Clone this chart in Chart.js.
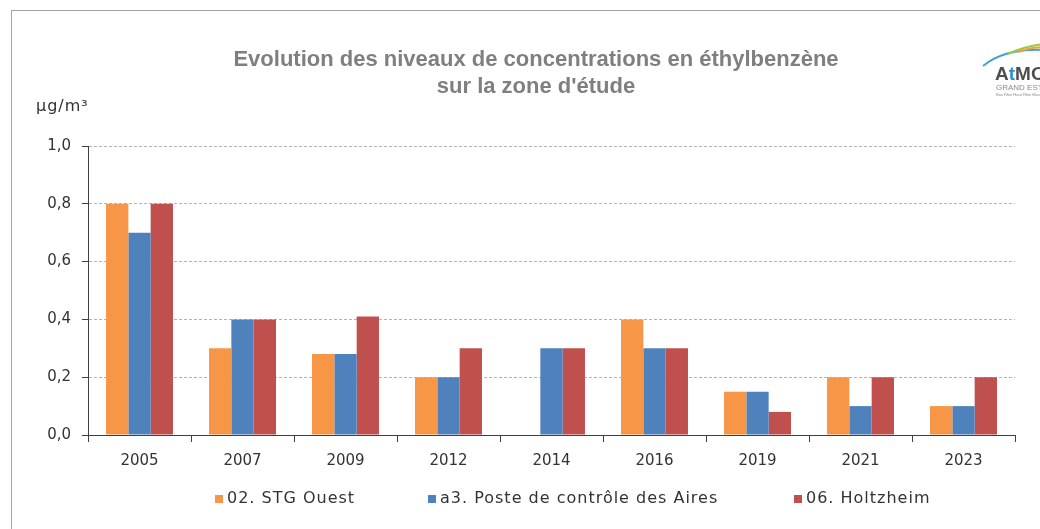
<!DOCTYPE html>
<html lang="fr">
<head>
<meta charset="UTF-8">
<title>Evolution des niveaux de concentrations en éthylbenzène</title>
<script src="https://cdn.jsdelivr.net/npm/chart.js"></script>
<style>
  html, body { margin: 0; padding: 0; background: #fff; }
  #wrap { width: 1040px; height: 529px; position: relative; }
</style>
</head>
<body>
<div id="wrap"><canvas id="chart"></canvas></div>
<script>
// data
const years = ['2005', '2007', '2009', '2012', '2014', '2016', '2019', '2021', '2023'];
const stgOuest = [0.8, 0.3, 0.28, 0.2, null, 0.4, 0.15, 0.2, 0.1];
const posteAires = [0.7, 0.4, 0.28, 0.2, 0.3, 0.3, 0.15, 0.1, 0.1];
const holtzheim = [0.8, 0.4, 0.41, 0.3, 0.3, 0.3, 0.08, 0.2, 0.2];
const seriesNames = ['02. STG Ouest', 'a3. Poste de contrôle des Aires', '06. Holtzheim'];
const seriesColors = ['#F79646', '#4F81BD', '#C0504D'];
const yTicks = [0, 0.2, 0.4, 0.6, 0.8, 1.0];

const titleLines = ['Evolution des niveaux de concentrations en éthylbenzène', 'sur la zone d\'étude'];
const unitLabel = 'µg/m³';

const tickFont = { family: 'DejaVu Sans', size: 15 };
const axisColor = '#404040';

// frame, title, unit, logo and the Excel-style legend
const decorations = {
    id: 'decorations',
    beforeDraw(chart) {
        const ctx = chart.ctx;
        ctx.save();
        ctx.fillStyle = '#fff';
        ctx.fillRect(0, 0, chart.width, chart.height);
        ctx.strokeStyle = '#a6a6a6';
        ctx.lineWidth = 1;
        ctx.strokeRect(11.5, 10.5, 1200, 700);
        ctx.restore();
    },
    afterDraw(chart) {
        const ctx = chart.ctx;
        ctx.save();

        // title
        ctx.fillStyle = '#7f7f7f';
        ctx.font = 'bold 22px "Liberation Sans"';
        ctx.textAlign = 'center';
        ctx.textBaseline = 'middle';
        titleLines.forEach((t, i) => ctx.fillText(t, 536, 60 + i * 27));

        // unit
        ctx.fillStyle = '#333';
        ctx.font = '16px "DejaVu Sans"';
        ctx.textAlign = 'left';
        ctx.letterSpacing = '1px';
        ctx.fillText(unitLabel, 36, 107);

        // legend
        const legendX = [215, 428, 794];
        ctx.font = '16px "DejaVu Sans"';
        seriesNames.forEach((name, i) => {
            ctx.fillStyle = seriesColors[i];
            ctx.fillRect(legendX[i], 495, 8, 8);
            ctx.fillStyle = '#333';
            ctx.fillText(name, legendX[i] + 12, 499);
        });
        ctx.letterSpacing = '0px';

        // logo (cut by the right edge as in the original)
        ctx.lineWidth = 2;
        ctx.strokeStyle = '#3aa0dc';
        ctx.beginPath();
        ctx.moveTo(983, 66);
        ctx.quadraticCurveTo(1005, 48, 1045, 50);
        ctx.stroke();
        ctx.strokeStyle = '#9ccc3c';
        ctx.beginPath();
        ctx.moveTo(1008, 54);
        ctx.quadraticCurveTo(1025, 46, 1045, 44);
        ctx.stroke();
        ctx.strokeStyle = '#f3a13a';
        ctx.beginPath();
        ctx.moveTo(1018, 52);
        ctx.quadraticCurveTo(1030, 47, 1045, 47);
        ctx.stroke();
        ctx.font = 'bold 19px "Liberation Sans"';
        ctx.textBaseline = 'alphabetic';
        ctx.fillStyle = '#4d4d4d';
        ctx.fillText('A', 995, 80);
        let x = 995 + ctx.measureText('A').width;
        ctx.fillStyle = '#2b8fd0';
        ctx.fillText('t', x, 80);
        x += ctx.measureText('t').width;
        ctx.fillStyle = '#4d4d4d';
        ctx.fillText('MO', x, 80);
        ctx.font = '8px "Liberation Sans"';
        ctx.fillStyle = '#8a8a8a';
        ctx.fillText('GRAND EST', 996, 90);
        ctx.font = '4px "Liberation Sans"';
        ctx.fillText('Bas Rhin Haut Rhin Moselle', 996, 96);
        ctx.restore();
    }
};

new Chart(document.getElementById('chart'), {
    type: 'bar',
    data: {
        labels: years,
        datasets: [stgOuest, posteAires, holtzheim].map((vals, i) => ({
            label: seriesNames[i],
            data: vals,
            backgroundColor: seriesColors[i],
            borderWidth: 0,
            categoryPercentage: 0.65,
            barPercentage: 1.0
        }))
    },
    options: {
        responsive: true,
        maintainAspectRatio: false,
        animation: false,
        layout: { padding: { top: 146, right: 25, bottom: 0, left: 0 } },
        plugins: {
            legend: { display: false },
            title: { display: false },
            tooltip: { enabled: false }
        },
        scales: {
            x: {
                offset: true,
                grid: {
                    offset: true,
                    drawOnChartArea: false,
                    drawTicks: true,
                    tickLength: 7,
                    tickColor: axisColor
                },
                border: { color: axisColor, width: 1 },
                ticks: { color: '#333', font: tickFont, padding: 10, maxRotation: 0 },
                afterFit(scale) { scale.height = 94; }
            },
            y: {
                min: 0,
                max: 1.0,
                afterBuildTicks(scale) { scale.ticks = yTicks.map(v => ({ value: v })); },
                grid: {
                    color: '#b4b4b4',
                    tickColor: axisColor,
                    tickLength: 6,
                    tickBorderDash: []
                },
                border: { color: axisColor, width: 1, dash: [3, 2] },
                ticks: {
                    color: '#333',
                    font: tickFont,
                    padding: 11,
                    callback: v => v.toFixed(1).replace('.', ',')
                },
                afterFit(scale) { scale.width = 88; }
            }
        }
    },
    plugins: [decorations]
});
</script>
</body>
</html>
